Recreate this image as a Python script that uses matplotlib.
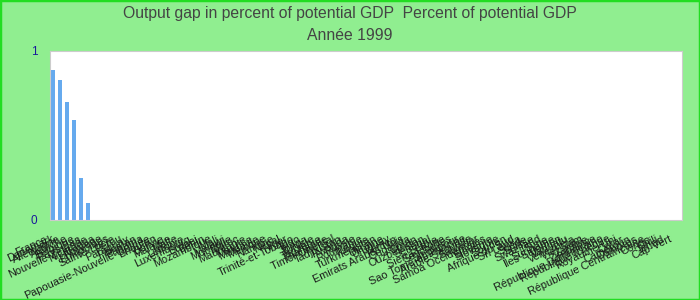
import matplotlib.pyplot as plt
from matplotlib.patches import Rectangle
from matplotlib.transforms import ScaledTranslation
import numpy as np

# categories (pays), année 1999
pays = ["France", "Danemark", "Allemagne", "Autriche", "Belgique", "Pays-Bas",
        "Nouvelle-Zélande", "Nicaragua", "Norvège", "Philippines", "Sainte-Lucie",
        "Pérou", "Paraguay", "Pakistan", "Panama", "Papouasie-Nouvelle-Guinée",
        "Bhoutan", "Bolivie", "Malaisie", "Malte", "Lettonie", "Luxembourg",
        "Brunei", "Bénin", "Mozambique", "Mali", "Malawi", "Mongolie", "Maroc",
        "Mauritanie", "Maurice", "Moldavie", "Mexique", "Namibie", "Népal",
        "Niger", "Trinité-et-Tobago", "Togo", "Tonga", "Tunisie", "Tanzanie",
        "Thaïlande", "Timor Oriental", "Tadjikistan", "Rwanda", "Russie",
        "Roumanie", "Turquie", "Turkménistan", "Ukraine", "Uruguay", "Yémen",
        "Emirats Arabes Unis", "Ouganda", "Oman", "Ouzbékistan", "Sénégal",
        "Serbie", "Sierra Leone", "Seychelles", "Singapour",
        "Sao Tomé-et-Principe", "Arabie Saoudite", "Salvador",
        "Samoa Occidentales", "Slovénie", "Slovaquie", "Soudan",
        "Afrique du Sud", "Sri Lanka", "Suède", "Suisse", "Swaziland", "Syrie",
        "Suriname", "Îles Salomon", "Vanuatu", "Venezuela", "Viet Nam",
        "Zambie", "Zimbabwe", "République Dominicaine", "République tchèque",
        "Royaume-Uni", "Qatar", "Cameroun", "Comores",
        "République Centrafricaine", "Congo", "Chili", "Tchad", "Cap-Vert"]

# output gap values (only the first six are non-zero)
valeurs = [0.89, 0.83, 0.70, 0.59, 0.25, 0.10] + [0] * (len(pays) - 6)

plt.rcParams['font.family'] = ['Liberation Sans', 'DejaVu Sans']

fig = plt.figure(figsize=(7, 3), dpi=100, facecolor="#90ee90")
fig.patches.append(Rectangle((0, 0), 1, 1, transform=fig.transFigure,
                             fill=False, edgecolor="#22dd22", linewidth=2.5))

ax = fig.add_axes([0.0714, 0.2667, 0.9026, 0.5633])
ax.set_facecolor("white")

x = np.arange(len(pays))
ax.bar(x, valeurs, width=0.6, color="#66aaee")

ax.set_xlim(-0.5, len(pays) - 0.5)
ax.set_ylim(0, 1)
ax.set_yticks([0, 1])
ax.set_yticklabels(["0", "1"], color="#1a1a9a", fontsize=8.5)
ax.set_xticks(x)
ax.set_xticklabels(pays, rotation=25, ha="right", fontsize=7.8, color="#1a1a1a")
ax.tick_params(axis="y", length=0, pad=9)
ax.tick_params(axis="x", length=0, pad=10)
shift = ScaledTranslation(-5 / 100, 0, fig.dpi_scale_trans)
for lab in ax.get_xticklabels():
    lab.set_transform(lab.get_transform() + shift)
for s in ax.spines.values():
    s.set_color("#cccccc")

fig.text(0.5, 0.955, "Output gap in percent of potential GDP  Percent of potential GDP",
         ha="center", va="center", fontsize=11.3, color="#444444")
fig.text(0.5, 0.88, "Année 1999", ha="center", va="center", fontsize=11.3,
         color="#444444")

fig.savefig("out.png", dpi=100, facecolor=fig.get_facecolor())
